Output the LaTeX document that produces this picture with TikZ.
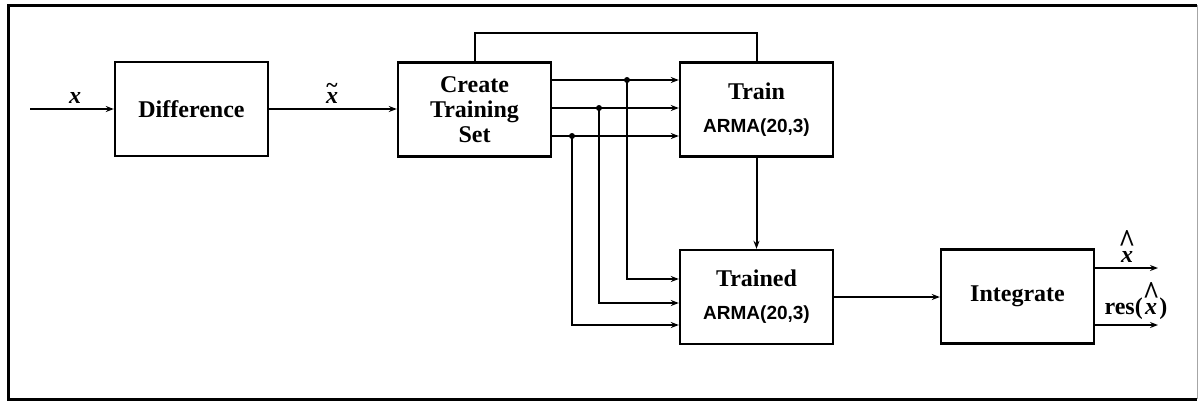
\documentclass[tikz,border=0pt]{standalone}
\usepackage{fontspec}
\usepackage{graphicx}
\setmainfont{Liberation Serif}
\newfontfamily\armafont{Liberation Sans}
\usetikzlibrary{arrows.meta}
\tikzset{
  x=0.5pt, y=-0.5pt,
  block/.style={draw, line width=1.2pt, minimum width=76.5pt, minimum height=47pt, inner sep=0pt, align=center, font=\fontsize{12}{13.5}\selectfont\bfseries},
  wire/.style={line width=1pt},
  arr/.style={wire, -{Stealth[length=4pt,width=3pt]}},
  dotm/.style={circle, fill=black, inner sep=0pt, minimum size=3pt},
  lbl/.style={inner sep=0pt, font=\fontsize{12}{14}\selectfont\bfseries},
}
\newcommand{\arma}{{\armafont\fontsize{9.5}{11}\selectfont\bfseries ARMA(20,3)}}
\newcommand{\bx}{\textit{x}}
\newcommand{\tildex}{\shortstack{\scalebox{0.9}{\textasciitilde}\\[-3pt]\bx}}
\newcommand{\hatx}{\shortstack{\scalebox{1.2}[1.4]{\textasciicircum}\\[-3.5pt]\bx}}
\begin{document}
\begin{tikzpicture}
\useasboundingbox (0,0) rectangle (1199,403);
% frame
\draw[line width=1.5pt] (1197,5) -- (8,5) -- (8,399) -- (1197,399);
\draw[line width=0.5pt, black!35] (1197,5) -- (1197,399);

% blocks
\node[block] (diff) at (191.5,109) {Difference};
\node[block] (create) at (474.5,109.5) {Create\\[-1pt]Training\\[-1pt]Set};
\node[block] (train) at (756.5,109.5) {Train\\[3pt]\arma};
\node[block] (trained) at (756.5,297) {Trained\\[3pt]\arma};
\node[block] (integ) at (1017.5,296.5) {Integrate};

% coordinates
\coordinate (inp) at (30,109);
\coordinate (r1) at (0,80);
\coordinate (r2) at (0,108);
\coordinate (r3) at (0,136);
\coordinate (t1) at (0,279);
\coordinate (t2) at (0,303);
\coordinate (t3) at (0,325);
\coordinate (o1) at (1158,268);
\coordinate (o2) at (1158,325);
\node[dotm] (b1) at (627,80) {};
\node[dotm] (b2) at (599,108) {};
\node[dotm] (b3) at (572,136) {};

% input
\draw[arr] (inp) -- (diff.west);
\node[lbl] (lx) at (75,98) {\bx};
\draw[arr] (diff.east) -- (diff.east -| create.west);
\node[lbl, anchor=south] (lxt) at (332,104) {\tildex};

% top loop
\draw[wire] (create.north) -- ++(0,-28) -| (train.north);

% three lines
\draw[arr] (create.east |- r1) -- (train.west |- r1);
\draw[arr] (create.east |- r2) -- (train.west |- r2);
\draw[arr] (create.east |- r3) -- (train.west |- r3);

% branches to trained
\draw[arr] (b1.center) |- (trained.west |- t1);
\draw[arr] (b2.center) |- (trained.west |- t2);
\draw[arr] (b3.center) |- (trained.west |- t3);

% train -> trained
\draw[arr] (train.south) -- (trained.north);
% trained -> integrate
\draw[arr] (trained.east) -- (trained.east -| integ.west);

% outputs
\draw[arr] (integ.east |- o1) -- (o1);
\draw[arr] (integ.east |- o2) -- (o2);
\node[lbl, anchor=south] (lxh) at (1127,263) {\hatx};
\node[lbl, anchor=south] (lres) at (1136,320) {res(\hatx)};
\end{tikzpicture}
\end{document}
